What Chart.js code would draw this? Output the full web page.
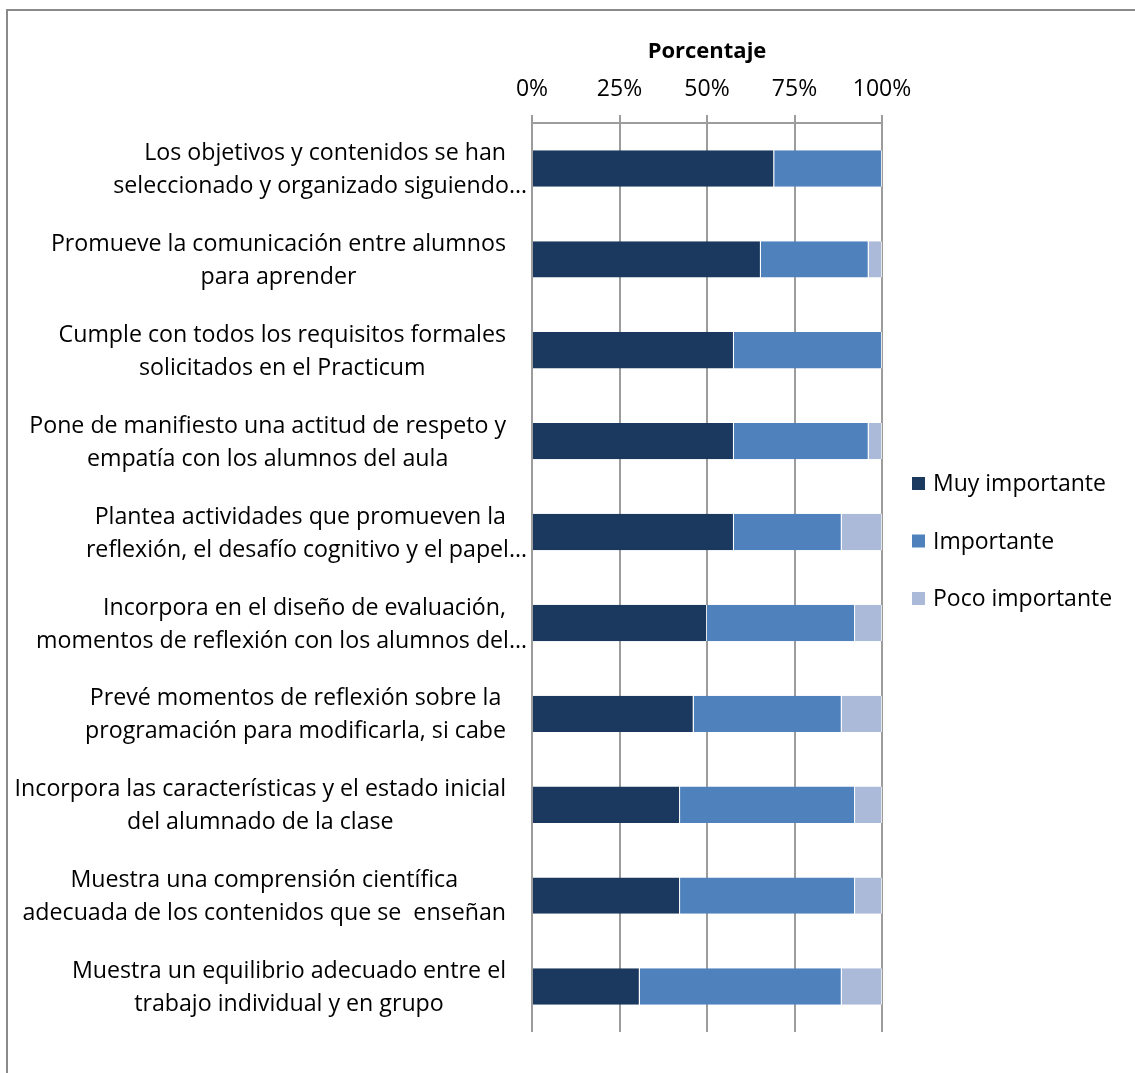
<!DOCTYPE html>
<html>
<head>
<meta charset="utf-8">
<script src="https://cdn.jsdelivr.net/npm/chart.js@4.4.1/dist/chart.umd.min.js"></script>
<style>
  html, body { margin: 0; padding: 0; background: #fff; overflow: hidden; }
  #wrap { position: relative; width: 1135px; height: 1073px; overflow: hidden; }
  #frame { position: absolute; left: 6px; top: 9px; width: 1200px; height: 1200px;
           border: 2px solid #8a8a8a; box-sizing: border-box; }
  canvas { position: absolute; left: 0; top: 0; }
</style>
</head>
<body>
<div id="wrap">
  <div id="frame"></div>
  <canvas id="chart" width="1135" height="1073"></canvas>
</div>
<script>
// Survey items (wrapped as in the axis), top to bottom
const categories = [
  ["Los objetivos y contenidos se han", "seleccionado y organizado siguiendo…"],
  ["Promueve la comunicación entre alumnos", "para aprender"],
  ["Cumple con todos los requisitos formales", "solicitados en el Practicum"],
  ["Pone de manifiesto una actitud de respeto y", "empatía con los alumnos del aula"],
  ["Plantea actividades que promueven la", "reflexión, el desafío cognitivo y el papel…"],
  ["Incorpora en el diseño de evaluación,", "momentos de reflexión con los alumnos del…"],
  ["Prevé momentos de reflexión sobre la", "programación para modificarla, si cabe"],
  ["Incorpora las características y el estado inicial", "del alumnado de la clase"],
  ["Muestra una comprensión científica", "adecuada de los contenidos que se  enseñan"],
  ["Muestra un equilibrio adecuado entre el", "trabajo individual y en grupo"]
];

// Percentages per rating
const muyImportante  = [69.2, 65.4, 57.7, 57.7, 57.7, 50.0, 46.2, 42.3, 42.3, 30.8];
const importante     = [30.8, 30.8, 42.3, 38.5, 30.8, 42.3, 42.3, 50.0, 50.0, 57.7];
const pocoImportante = [ 0.0,  3.8,  0.0,  3.8, 11.5,  7.7, 11.5,  7.7,  7.7, 11.5];

const seriesNames = ["Muy importante", "Importante", "Poco importante"];
const seriesColors = ["#1b385e", "#4f81bd", "#aabad8"];
const axisTitle = "Porcentaje";
const xTickValues = [0, 25, 50, 75, 100];

const FAMILY = "'Open Sans', Lato, sans-serif";

// Category labels: each block right-aligned next to the axis, lines centred within it
const categoryLabels = {
  id: 'categoryLabels',
  afterDraw(chart) {
    const ctx = chart.ctx, ys = chart.scales.y;
    ctx.save();
    ctx.font = `23.2px ${FAMILY}`;
    ctx.fillStyle = '#000';
    ctx.textBaseline = 'middle';
    const lineH = 33, right = 506, ellipsisRight = 527;
    categories.forEach((lines, i) => {
      const cy = ys.getPixelForValue(i) + 1.5;
      const plain = lines.filter(l => !l.endsWith('…'));
      const w = Math.max(...plain.map(l => ctx.measureText(l).width));
      const cx = right - w / 2;
      lines.forEach((l, k) => {
        const ly = cy + (k - (lines.length - 1) / 2) * lineH;
        if (l.endsWith('…')) { ctx.textAlign = 'right'; ctx.fillText(l, ellipsisRight, ly); }
        else { ctx.textAlign = 'center'; ctx.fillText(l, cx, ly); }
      });
    });
    ctx.restore();
  }
};

// Legend on the right, stacked vertically
const sideLegend = {
  id: 'sideLegend',
  afterDraw(chart) {
    const ctx = chart.ctx;
    ctx.save();
    ctx.font = `23px ${FAMILY}`;
    ctx.textBaseline = 'middle';
    ctx.textAlign = 'left';
    const x = 912, box = 13, gap = 57.5, mid = 541;
    chart.data.datasets.forEach((ds, i) => {
      const cy = mid + (i - 1) * gap;
      ctx.fillStyle = ds.backgroundColor;
      ctx.fillRect(x, cy - box / 2, box, box);
      ctx.fillStyle = '#000';
      ctx.fillText(ds.label, x + box + 8, cy + 1);
    });
    ctx.restore();
  }
};

const seriesData = [muyImportante, importante, pocoImportante];

new Chart(document.getElementById('chart'), {
  type: 'bar',
  data: {
    labels: categories,
    datasets: seriesNames.map((name, i) => ({
      label: name,
      data: seriesData[i],
      backgroundColor: seriesColors[i],
      borderColor: 'rgba(255,255,255,0.75)',
      borderWidth: { top: 0, bottom: 0, left: 0, right: 1 },
      borderSkipped: false,
      barPercentage: 0.4,
      categoryPercentage: 1.0
    }))
  },
  options: {
    indexAxis: 'y',
    responsive: false,
    animation: false,
    layout: { padding: { left: 0, top: 0, right: 253, bottom: 41 } },
    plugins: { legend: { display: false }, tooltip: { enabled: false } },
    scales: {
      x: {
        position: 'top',
        stacked: true,
        min: 0, max: 100,
        afterBuildTicks(scale) { scale.ticks = xTickValues.map(v => ({ value: v })); },
        ticks: { callback: v => v + '%', color: '#000', font: { family: FAMILY, size: 23 }, padding: 12, maxRotation: 0 },
        grid: { color: '#9c9c9c', lineWidth: 2, tickLength: 8 },
        border: { display: true, color: '#9c9c9c', width: 2 },
        title: { display: true, text: axisTitle, color: '#000',
                 font: { family: FAMILY, size: 22, weight: 'bold' }, padding: { top: 39, bottom: 0 } },
        afterFit(scale) { scale.height = 123; }
      },
      y: {
        stacked: true,
        ticks: { display: false },
        grid: { display: false },
        border: { display: false },
        afterFit(scale) { scale.width = 532; }
      }
    }
  },
  plugins: [categoryLabels, sideLegend]
});
</script>
</body>
</html>
